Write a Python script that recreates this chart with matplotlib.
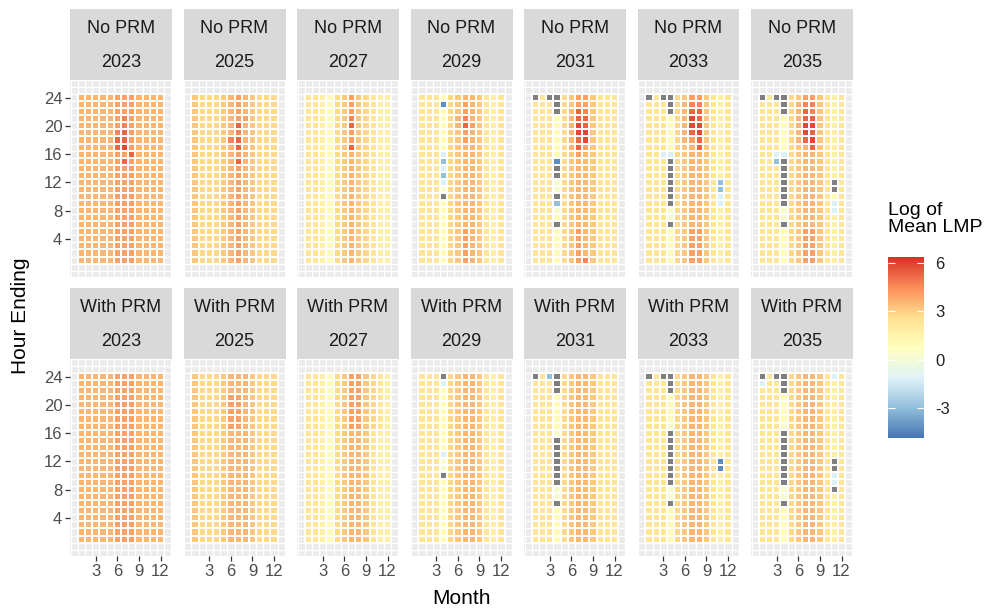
import numpy as np
import matplotlib as mpl
import matplotlib.pyplot as plt
from matplotlib.colors import LinearSegmentedColormap, Normalize

plt.rcParams['font.family'] = ['Liberation Sans', 'DejaVu Sans']
plt.rcParams['axes.unicode_minus'] = False

scenarios = ['No PRM', 'With PRM']
years = ['2023', '2025', '2027', '2029', '2031', '2033', '2035']
month_ticks = [3, 6, 9, 12]
hour_ticks = [4, 8, 12, 16, 20, 24]
legend_ticks = [-3, 0, 3, 6]

# one character per tile -> log of mean LMP, x = no data
level = {'a': -4.3, 'b': -3.0, 'c': -1.2, 'd': 0.2, '0': 1.0, '1': 1.7,
         '2': 2.3, '3': 2.8, '4': 3.2, '5': 3.6, '6': 4.1, '7': 4.7,
         '8': 5.3, '9': 5.9, 'x': np.nan}

# each grid: hour 24 first down to hour 1, columns = months 1..12
no_prm_2023 = [
    "555556665555", "555556665555", "555556665555", "555556765555", "555556765555", "555557865555",
    "555558865555", "555558965555", "555556685555", "555556865555", "555556665555", "555556665555",
    "555556665555", "555556665555", "555556665555", "555556665555", "555556665555", "555556665555",
    "555556665555", "555556665555", "555556665555", "555556665555", "555556665555", "555556665555"]
no_prm_2025 = [
    "433345654333", "433345654333", "433345654333", "433345664333", "433345854333", "433345754333",
    "433347854333", "433345854333", "433345654333", "433345854333", "433345654333", "433345654333",
    "433345654333", "433345654333", "433345654333", "433345654333", "433345654333", "433345654333",
    "433345654333", "433345654333", "433345654333", "433345654333", "433345654333", "433345654333"]
no_prm_2027 = [
    "221034643211", "221034643211", "221034643211", "221034743211", "221034843211", "221034643211",
    "221034643211", "221034843211", "221034543211", "221034543211", "221034543211", "221034543211",
    "221034543211", "221034543211", "221034543211", "221034543211", "221034543211", "221034543211",
    "221034543211", "221034543211", "221034543211", "221034543211", "221034543211", "221034543211"]
no_prm_2029 = [
    "222034554212", "222a34654212", "222034654212", "222035754212", "222035864212", "222034654212",
    "222034654212", "222034554212", "222c34554212", "222b34554212", "222c34554212", "222b34554212",
    "222c34554212", "222d34554212", "222x34554212", "222034554212", "222034554212", "222034554212",
    "222034554212", "222034654212", "222034654212", "222034654212", "222034654212", "222034654212"]
no_prm_2031 = [
    "x2xx34664222", "222x34664222", "222x35874222", "222035884222", "222035984222", "222035994222",
    "222035894222", "222035864222", "222034654222", "222a34554222", "222x34554222", "222x34554222",
    "222d34554222", "222d34554222", "222x34554222", "222b34554222", "222d34554222", "222034554222",
    "222x34554222", "222034654222", "222034654222", "222034654222", "222034654222", "222034674222"]
no_prm_2033 = [
    "x2xx34664212", "222x35774212", "222x35884212", "222035984212", "222035994212", "222035894212",
    "222035684212", "222034584212", "22cc34554212", "222x34554212", "222x34554212", "222x34554212",
    "222x345542b2", "222x345542b2", "222x345542c2", "222x345542c2", "222d34554212", "222d34554212",
    "222x34554212", "222034664212", "222034664212", "222034664212", "222034664212", "222034664212"]
no_prm_2035 = [
    "x2xx34664212", "222x35774212", "222x35874212", "222035884212", "222035994212", "222035984212",
    "222035894212", "222034584212", "22cc34554212", "22bx34554212", "222x34554212", "222x34554212",
    "222x345542x2", "222x345542x2", "222x34554202", "222x345542c2", "222d345542c2", "222d34554212",
    "222x34554212", "222034664212", "222034664212", "222034664212", "222034664212", "222034664212"]
with_prm_2023 = [
    "555556665555", "555556665555", "555556665555", "555556665555", "555556665555", "555556665555",
    "555556665555", "555556665555", "555556665555", "555556665555", "555556665555", "555556665555",
    "555556665555", "555556665555", "555556665555", "555556665555", "555556665555", "555556665555",
    "555556665555", "555556665555", "555556665555", "555556665555", "555556665555", "555556665555"]
with_prm_2025 = [
    "433345554333", "433345554333", "433345554333", "433346654333", "433346654333", "433346654333",
    "433346654333", "433346654333", "433345554333", "433345554333", "433345554333", "433345554333",
    "433345554333", "433345554333", "433345554333", "433345554333", "433345554333", "433345554333",
    "433345554333", "433345554333", "433345554333", "433345554333", "433345554333", "433345554333"]
with_prm_2027 = [
    "221034664321", "221034664321", "221034664321", "221034664321", "221034664321", "221034664321",
    "221034664321", "221034664321", "221034554211", "221034554211", "221034554211", "221034554211",
    "221034554211", "221034554211", "221034554211", "221034554211", "221034554211", "221034554211",
    "221034554211", "221034554211", "221034554211", "221034554211", "221034554211", "221034554211"]
with_prm_2029 = [
    "222x34554212", "222c34554212", "222034554212", "222034554212", "222034554212", "222034554212",
    "222034554212", "222034554212", "222034554212", "222034554212", "222034554212", "222c34554212",
    "222d34554212", "222d34554212", "222x34554212", "222034554212", "222034554212", "222034554212",
    "222034554212", "222034554212", "222034554212", "222034554212", "222034554212", "222034554212"]
with_prm_2031 = [
    "x2bx34554222", "222x34554222", "222x34554222", "222034554222", "222034554222", "222034554222",
    "222034554222", "222034554222", "222d34554222", "222x34554222", "222x34554222", "222x34554222",
    "222x34554222", "222x34554222", "222x34554222", "222x34554222", "222d34554222", "222d34554222",
    "222x34554222", "222034554222", "222034554222", "222034554222", "222034554222", "222034554222"]
with_prm_2033 = [
    "x2xx34554212", "222x34554212", "222x34554212", "222034554212", "222034554212", "222034554212",
    "222034554212", "222d34554212", "222x34554212", "222x34554212", "222x34554212", "222x34554212",
    "222x345542a2", "222x345542a2", "222x34554212", "222x34554212", "222d34554212", "222d34554212",
    "222x34554212", "222034554212", "222034554212", "222034554212", "222034554212", "222034554212"]
with_prm_2035 = [
    "x2xx345542c2", "c22x34554212", "222x34554212", "222034554212", "222034554212", "222034554212",
    "222034554212", "222d34554212", "222x34554212", "222x34554212", "222x34554212", "222x34554212",
    "222x345542x2", "222x345542x2", "222x345542c2", "222x345542c2", "222d345542x2", "222d34554212",
    "222x34554212", "222034554212", "222034554212", "222034554212", "222034554212", "222034554212"]

grids = [
    [no_prm_2023, no_prm_2025, no_prm_2027, no_prm_2029, no_prm_2031, no_prm_2033, no_prm_2035],
    [with_prm_2023, with_prm_2025, with_prm_2027, with_prm_2029, with_prm_2031, with_prm_2033, with_prm_2035],
]

# RdYlBu (7 class) reversed, spread over the data range like scale_fill_distiller
cmap = LinearSegmentedColormap.from_list(
    'rdylbu', ['#4575b4', '#91bfdb', '#e0f3f8', '#ffffbf', '#fee090', '#fc8d59', '#d73027'])
cmap.set_bad('#7f7f7f')
norm = Normalize(vmin=-4.9, vmax=6.4)

W, H = 1000, 609


def px(x0, y0, w, h):
    return [x0 / W, 1 - (y0 + h) / H, w / W, h / H]


fig = plt.figure(figsize=(10, 6.09), dpi=100)

panel_left = 70
panel_step = 113.5
panel_w = 102
strip_top = [9, 288]
strip_h = 71
panel_h = 197

x_edges = np.arange(0.5, 13, 1)
y_edges = np.arange(0.5, 25, 1)

for r, scen in enumerate(scenarios):
    for c, yr in enumerate(years):
        x0 = panel_left + c * panel_step
        # strip
        sax = fig.add_axes(px(x0, strip_top[r], panel_w, strip_h))
        sax.set_facecolor('#d9d9d9')
        sax.set_xticks([])
        sax.set_yticks([])
        for s in sax.spines.values():
            s.set_visible(False)
        sax.text(0.5, 0.73, scen, ha='center', va='center', fontsize=13, color='#1a1a1a')
        sax.text(0.5, 0.24, yr, ha='center', va='center', fontsize=13, color='#1a1a1a')

        ax = fig.add_axes(px(x0, strip_top[r] + strip_h, panel_w, panel_h))
        ax.set_facecolor('#ebebeb')
        for s in ax.spines.values():
            s.set_visible(False)
        for v in np.arange(-0.5, 14, 1):
            ax.axvline(v, color='white', lw=0.9, zorder=0.5)
        for v in np.arange(-1.5, 27, 1):
            ax.axhline(v, color='white', lw=0.9, zorder=0.5)

        rows = grids[r][c][::-1]
        vals = np.array([[level[ch] for ch in row] for row in rows])
        ax.pcolormesh(x_edges, y_edges, np.ma.masked_invalid(vals), cmap=cmap, norm=norm,
                      edgecolors='white', linewidth=1.4, zorder=2)

        ax.set_xlim(-0.6, 13.6)
        ax.set_ylim(-1.4, 26.5)
        ax.set_xticks(month_ticks)
        ax.set_yticks(hour_ticks)
        ax.tick_params(colors='#333333', labelcolor='#4d4d4d', labelsize=12,
                       length=3.5, width=0.9, pad=2)
        if r == 0:
            ax.tick_params(bottom=False, labelbottom=False)
        if c != 0:
            ax.tick_params(left=False, labelleft=False)

fig.text(461 / W, 1 - 598 / H, 'Month', ha='center', va='center', fontsize=15)
fig.text(21 / W, 1 - 316 / H, 'Hour Ending', ha='center', va='center', rotation=90, fontsize=15)

# legend
cax = fig.add_axes(px(888, 257, 36, 181))
cb = mpl.colorbar.ColorbarBase(cax, cmap=cmap, norm=norm, ticks=legend_ticks)
cb.outline.set_visible(False)
cax.tick_params(length=0, labelsize=12, pad=8, labelcolor='#222222')
for t in legend_ticks:
    cax.hlines(t, 0, 0.2, color='white', lw=0.8)
    cax.hlines(t, 0.8, 1, color='white', lw=0.8)
fig.text(888 / W, 1 - 202 / H, 'Log of\nMean LMP', ha='left', va='top', fontsize=14,
         linespacing=1.0)

fig.savefig('out.png', dpi=100)
